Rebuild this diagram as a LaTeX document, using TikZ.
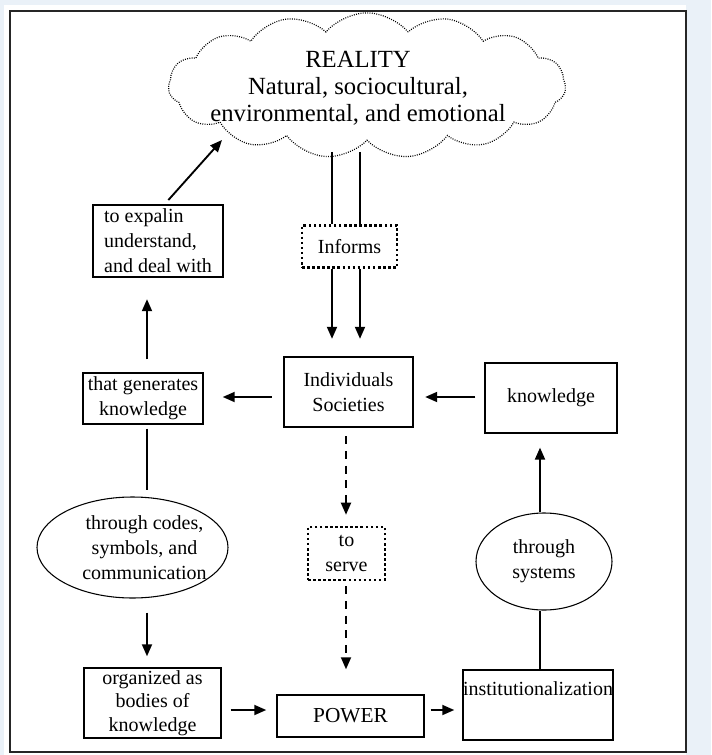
\documentclass[tikz,border=0pt]{standalone}
\usepackage{fontspec}
\setmainfont{Liberation Serif}
\usetikzlibrary{shapes.geometric,shapes.symbols,arrows.meta}
\definecolor{framebg}{HTML}{EAF1F8}
\begin{document}
\begin{tikzpicture}[x=0.75pt,y=-0.75pt,
  txt/.style={font=\fontsize{15}{18.75}\selectfont, align=center, inner sep=0pt},
  box/.style={draw, line width=1.1pt, txt},
  thickbox/.style={box, line width=1.8pt},
  dotbox/.style={txt, draw, line width=1.9pt, dash pattern=on 1.9pt off 1.9pt, fill=white},
  ell/.style={draw, ellipse, line width=0.8pt, inner sep=0pt},
  arr/.style={line width=1.4pt, -{Triangle[length=9pt,width=7.5pt]}},
  dasharr/.style={arr, dash pattern=on 6pt off 5pt},
  link/.style={line width=1.4pt}]
% frame
\fill[framebg] (0,0) rectangle (711,755);
\fill[white] (4,5) rectangle (686,755);
\draw[line width=1.3pt, black!85] (10,11) rectangle (686,752);
\useasboundingbox (0,0) rectangle (711,755);

% cloud
\node[draw, cloud, cloud puffs=15, cloud puff arc=100, cloud ignores aspect,
      minimum width=298pt, minimum height=109pt, line width=0.9pt,
      dash pattern=on 0.7pt off 1pt] (cloud) at (367,85.5) {};
\node[font=\fontsize{18.5}{20.25}\selectfont, align=center, inner sep=0pt]
  (reality) at (358,88) {REALITY\\Natural, sociocultural,\\environmental, and emotional};

% nodes
\node[dotbox, minimum width=71.25pt, minimum height=31.5pt] (inf) at (349.5,246.5) {Informs};
\node[thickbox, minimum width=96.75pt, minimum height=52.5pt] (indiv) at (348.5,392) {Individuals\\Societies};
\node[box, minimum width=90pt, minimum height=38.25pt] (gen) at (143,398.5) {that generates\\knowledge};
\node[box, line width=0.9pt, minimum width=99pt, minimum height=52.5pt] (know) at (551,398) {knowledge};
\node[thickbox, align=left, minimum width=97.5pt, minimum height=54pt] (expl) at (158,241) {to expalin\\understand,\\and deal with};
\node[ell, minimum width=143.25pt, minimum height=75.75pt,
      label={[txt, name=codestxt, xshift=9pt]center:{through codes,\\symbols, and\\communication}}] (codes) at (132.5,547.5) {};
\node[ell, txt, minimum width=102pt, minimum height=72.75pt] (sys) at (544,561.5) {through\\systems};
\node[dotbox, minimum width=57.75pt, minimum height=39.75pt] (serve) at (346.5,553.5) {to\\serve};
\node[box, minimum width=102.75pt, minimum height=52.5pt, font=\fontsize{15}{17.6}\selectfont] (org) at (152.5,703) {organized as\\bodies of\\knowledge};
\node[box, minimum width=110.25pt, minimum height=31.5pt, font=\fontsize{16}{19}\selectfont] (power) at (350.5,716) {POWER};
\node[box, minimum width=112.5pt, minimum height=52.5pt] (inst) at (538,705) {institutionalization\\\strut};

% helper coordinates
\coordinate (colx) at (147,0);
\coordinate (exx) at (165,0);
\coordinate (cloudtip) at (222,140);
\coordinate (rowy) at (0,397);
\coordinate (midx) at (346,0);
\coordinate (boty) at (0,710);
\coordinate (rx) at (540,0);
\coordinate (la) at (332,152);
\coordinate (lb) at (360,152);

% connectors
\draw[arr, shorten <=3.75pt] (expl.north -| exx) -- (cloudtip);
\draw[link] (la) -- (la |- inf.north);
\draw[link] (lb) -- (lb |- inf.north);
\draw[arr, shorten >=12.75pt] (la |- inf.south) -- (la |- indiv.north);
\draw[arr, shorten >=12.75pt] (lb |- inf.south) -- (lb |- indiv.north);
\draw[arr, shorten <=9.75pt, shorten >=15.75pt] (gen.north -| colx) -- (expl.south -| colx);
\draw[link, shorten <=3pt, shorten >=5pt] (gen.south -| colx) -- (codes.north -| colx);
\draw[arr, shorten <=10.5pt, shorten >=8.25pt] (codes.south -| colx) -- (org.north -| colx);
\draw[arr, shorten <=8.25pt, shorten >=14.25pt] (indiv.west |- rowy) -- (gen.east |- rowy);
\draw[arr, shorten <=6.75pt, shorten >=8.25pt] (know.west |- rowy) -- (indiv.east |- rowy);
\draw[dasharr, shorten <=6pt, shorten >=8.25pt] (indiv.south -| midx) -- (serve.north -| midx);
\draw[dasharr, shorten <=3.75pt, shorten >=18.75pt] (serve.south -| midx) -- (power.north -| midx);
\draw[arr, shorten <=6.75pt, shorten >=7.5pt] (org.east |- boty) -- (power.west |- boty);
\draw[arr, shorten <=4.5pt, shorten >=6pt] (power.east |- boty) -- (inst.west |- boty);
\draw[link] (inst.north -| rx) -- (sys.south -| rx);
\draw[arr, shorten >=10.5pt] (sys.north -| rx) -- (know.south -| rx);
\end{tikzpicture}
\end{document}
